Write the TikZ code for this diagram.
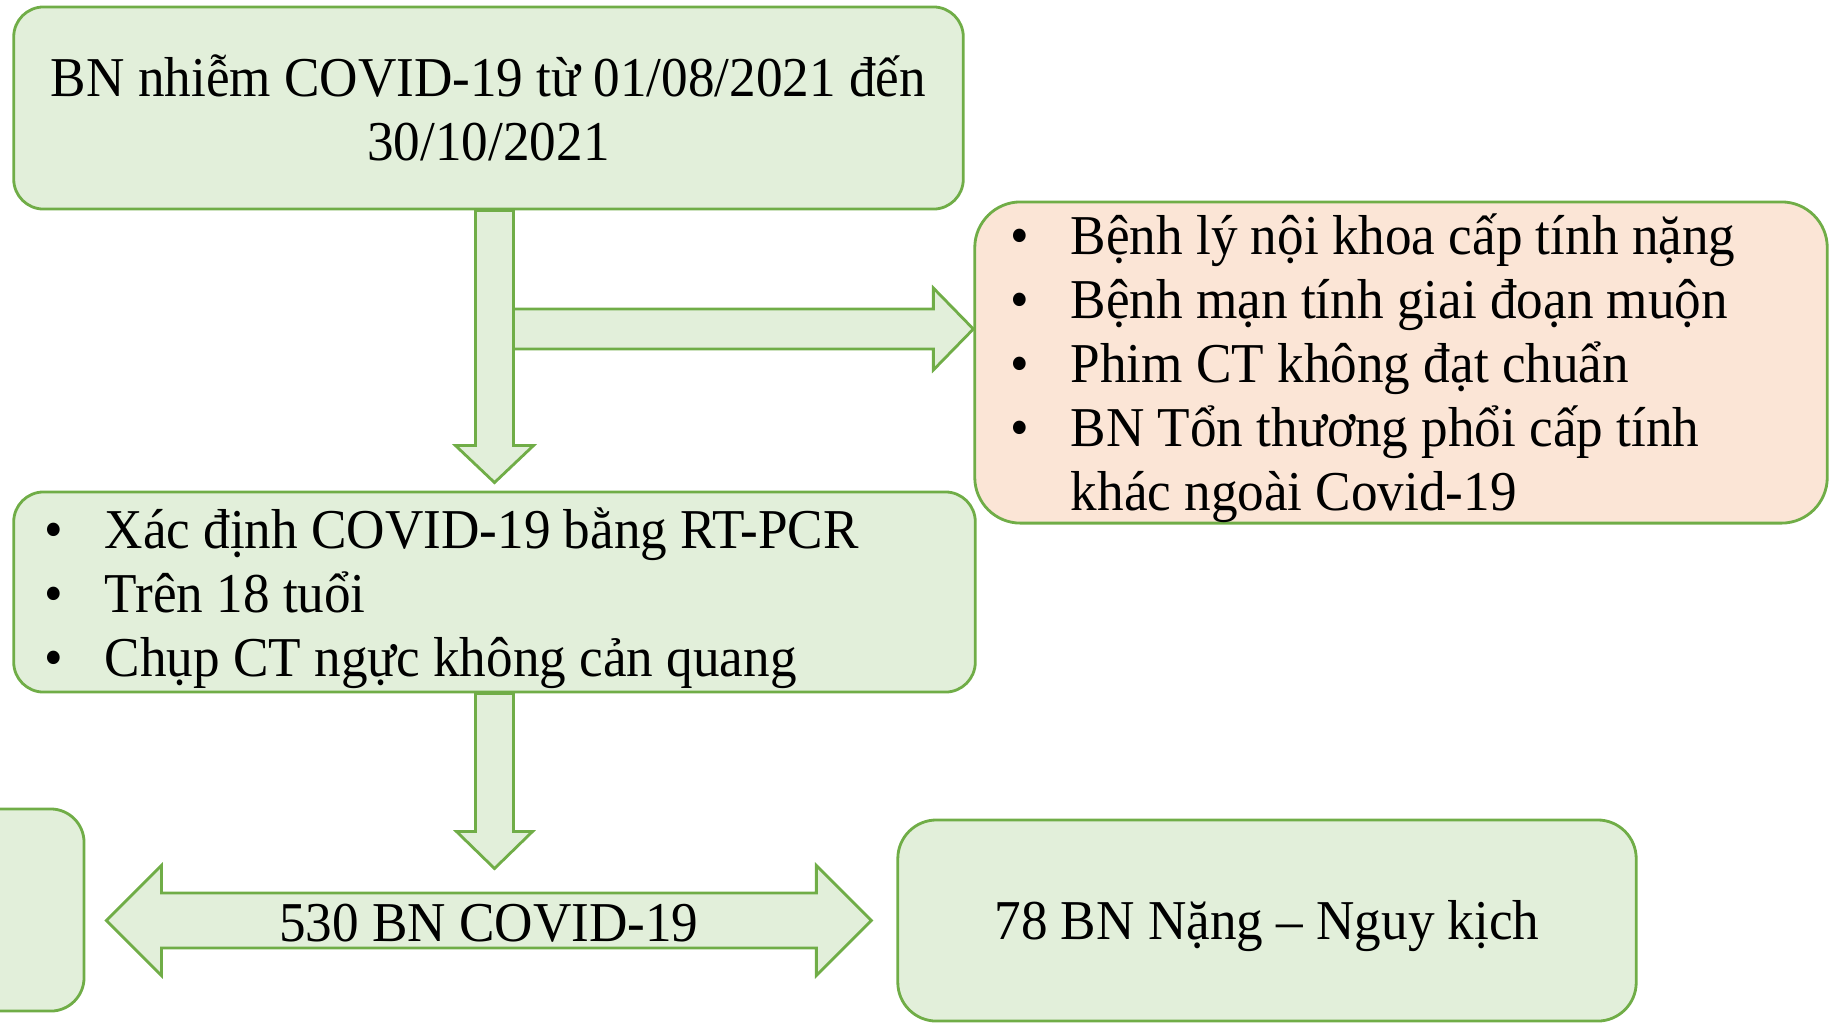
\documentclass[tikz,border=0pt]{standalone}
\usepackage{fontspec}
\setmainfont{Liberation Serif}[FakeStretch=0.945]
\usetikzlibrary{calc}

\definecolor{boxgreen}{HTML}{E2EFDA}
\definecolor{linegreen}{HTML}{70AD47}
\definecolor{boxpink}{HTML}{FBE5D6}

\newcommand{\listdot}{\makebox[0.52cm][l]{\hspace*{-0.08cm}•}}

\begin{document}
\begin{tikzpicture}[
  x=0.01cm,
  y=-0.01cm,
  every node/.style={font=\fontsize{16}{18}\selectfont},
  flow box/.style={rectangle,rounded corners=8.5pt,draw=linegreen,line width=0.8pt,fill=boxgreen,inner sep=0pt,align=center},
  list text/.style={inner sep=0pt,align=flush left,font=\fontsize{16}{18.2}\selectfont},
  block arrow/.style={draw=linegreen,line width=0.8pt,fill=boxgreen,line join=miter},
]
\useasboundingbox (0,0) rectangle (1831,1023);

\node[flow box,minimum width=9.49cm,minimum height=2.02cm] (cohort) at (488.5,108)
  {BN nhiễm COVID-19 từ 01/08/2021 đến\\30/10/2021};
\node[flow box,fill=boxpink,rounded corners=13pt,minimum width=8.52cm,minimum height=3.21cm] (excl) at (1401,362.5) {};
\node[list text,text width=7.64cm] (exclList) at ($(excl.center)+(0,6)$)
  {\listdot Bệnh lý nội khoa cấp tính nặng\\
   \listdot Bệnh mạn tính giai đoạn muộn\\
   \listdot Phim CT không đạt chuẩn\\
   \listdot BN Tổn thương phổi cấp tính\\
   \hspace*{0.52cm}khác ngoài Covid-19};
\node[flow box,minimum width=9.61cm,minimum height=2.0cm] (incl) at (494.5,592) {};
\node[list text,text width=8.81cm] (inclList) at ($(incl.center)+(-1,6)$)
  {\listdot Xác định COVID-19 bằng RT-PCR\\
   \listdot Trên 18 tuổi\\
   \listdot Chụp CT ngực không cản quang};
\node[flow box,rounded corners=9.5pt,minimum width=1.44cm,minimum height=2.02cm] (prior) at (12,910) {};
\node[flow box,rounded corners=11pt,minimum width=7.38cm,minimum height=2.01cm] (severe) at (1267,920.5) {};
\node (severeText) at ($(severe.center)+(0,6)$) {78 BN Nặng – Nguy kịch};

% block arrows
\coordinate (d1s) at (cohort.south -| incl.north);
\coordinate (d1e) at ($(incl.north)+(0,-8)$);
\coordinate (h1e) at ($(excl.west)+(0,-33.5)$);
\coordinate (h1s) at ($(d1s |- h1e)+(19,0)$);
\draw[block arrow] ($(h1s)+(0,-20)$) -- ($(h1e)+(-40,-20)$) -- ++(0,-21) -- (h1e)
  -- ++(-40,41) -- ++(0,-21) -- ($(h1s)+(0,20)$) -- cycle;
\draw[block arrow] ($(d1s)+(-19,0)$) -- ($(d1e)+(-19,-37)$) -- ++(-20,0) -- (d1e)
  -- ++(39,-37) -- ++(-20,0) -- ($(d1s)+(19,0)$) -- cycle;

\coordinate (dl) at ($(prior.east |- severe.west)+(21,0)$);
\coordinate (dr) at ($(severe.west)+(-25,0)$);
\coordinate (mid) at ($(dl)!0.5!(dr)$);
\coordinate (d2e) at ($(incl.south |- mid)+(0,-52)$);
\draw[block arrow] ($(incl.south)+(-19,0)$) -- ($(d2e)+(-19,-37)$) -- ++(-19,0) -- (d2e)
  -- ++(38,-37) -- ++(-19,0) -- ($(incl.south)+(19,0)$) -- cycle;
\draw[block arrow] (dl) -- ++(55,-55) -- ++(0,27.5) -- ($(dr)+(-55,-27.5)$) -- ++(0,-27.5) -- (dr)
  -- ++(-55,55) -- ++(0,-27.5) -- ($(dl)+(55,27.5)$) -- ++(0,27.5) -- cycle;
\node (total) at ($(mid)+(0,3)$) {530 BN COVID-19};
\end{tikzpicture}
\end{document}
